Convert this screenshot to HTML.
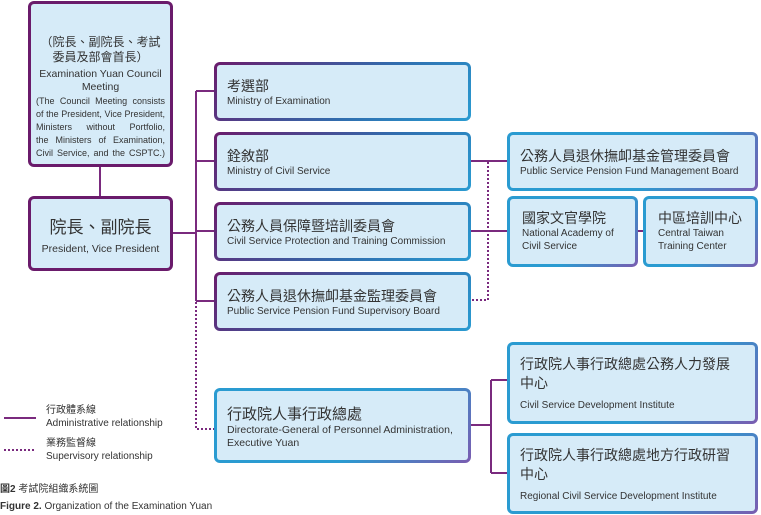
<!DOCTYPE html>
<html><head><meta charset="utf-8"><style>
body{margin:0;width:761px;height:515px;background:#fff;position:relative;overflow:hidden;font-family:"Liberation Sans","Noto Sans CJK TC",sans-serif;color:#333}
.b{position:absolute;box-sizing:border-box;border:3px solid transparent;border-radius:6px;background:linear-gradient(#d6ebf8,#d6ebf8) padding-box,var(--g) border-box}
.p{--g:linear-gradient(#6a1b6b,#6a1b6b)}
.m{--g:linear-gradient(135deg,#6a1b6b,#2f6fb0 60%,#2a9bd1)}
.r{--g:linear-gradient(135deg,#2a9bd1,#2a9bd1 60%,#7a5cb0)}
.c{text-align:center}
.zh{font-size:14px;color:#333;line-height:18px}
.en{font-size:10px;color:#333;line-height:13px}
.in{padding:12px 0 0 10px}
svg{position:absolute;left:0;top:0}
</style></head><body>
<svg width="761" height="515">
<g stroke="#7a2a7e" stroke-width="2" fill="none">
<line x1="100" y1="166" x2="100" y2="196"/>
<line x1="172" y1="233" x2="196" y2="233"/>
<line x1="196" y1="91" x2="196" y2="301"/>
<line x1="196" y1="91" x2="214" y2="91"/>
<line x1="196" y1="161" x2="214" y2="161"/>
<line x1="196" y1="231" x2="214" y2="231"/>
<line x1="196" y1="301" x2="214" y2="301"/>
<line x1="470" y1="161" x2="508" y2="161"/>
<line x1="470" y1="231" x2="508" y2="231"/>
<line x1="637" y1="231" x2="644" y2="231"/>
<line x1="470" y1="425" x2="491" y2="425"/>
<line x1="491" y1="380" x2="491" y2="473"/>
<line x1="491" y1="380" x2="508" y2="380"/>
<line x1="491" y1="473" x2="508" y2="473"/>
<line x1="4" y1="418" x2="36" y2="418"/>
</g>
<g stroke="#7a2a7e" stroke-width="2" fill="none" stroke-dasharray="2 2">
<path d="M196 302 V429 H214"/>
<path d="M488 162 V300 H470"/>
<line x1="4" y1="450" x2="36" y2="450"/>
</g>
</svg>

<div class="b p c" style="left:28px;top:1px;width:145px;height:166px;padding:31px 5px 0">
<div style="font-size:12px;line-height:15px">（院長、副院長、考試<br>委員及部會首長）</div>
<div style="font-size:10.5px;line-height:13px;margin-top:3px">Examination Yuan Council<br>Meeting</div>
<div style="font-size:9px;line-height:13px;text-align:justify;text-align-last:justify;margin-top:1px">(The Council Meeting consists<br>of the President, Vice President,<br>Ministers without Portfolio,<br>the Ministers of Examination,<br><span style="display:inline-block;width:100%;text-align:left">Civil Service, and the CSPTC.)</span></div>
</div>
<div class="b p c" style="left:28px;top:196px;width:145px;height:75px;padding-top:18px">
<div style="font-size:17px;line-height:22px">院長、副院長</div>
<div class="en" style="font-size:10.5px;margin-top:4px">President, Vice President</div>
</div>

<div class="b m in" style="left:214px;top:62px;width:257px;height:59px"><div class="zh">考選部</div><div class="en">Ministry of Examination</div></div>
<div class="b m in" style="left:214px;top:132px;width:257px;height:59px"><div class="zh">銓敘部</div><div class="en">Ministry of Civil Service</div></div>
<div class="b m in" style="left:214px;top:202px;width:257px;height:59px"><div class="zh">公務人員保障暨培訓委員會</div><div class="en">Civil Service Protection and Training Commission</div></div>
<div class="b m in" style="left:214px;top:272px;width:257px;height:59px"><div class="zh">公務人員退休撫卹基金監理委員會</div><div class="en">Public Service Pension Fund Supervisory Board</div></div>
<div class="b r in" style="left:214px;top:388px;width:257px;height:75px;padding-top:15px"><div class="zh" style="font-size:15px">行政院人事行政總處</div><div class="en" style="font-size:10.5px">Directorate-General of Personnel Administration, Executive Yuan</div></div>

<div class="b r in" style="left:507px;top:132px;width:251px;height:59px"><div class="zh">公務人員退休撫卹基金管理委員會</div><div class="en">Public Service Pension Fund Management Board</div></div>
<div class="b r" style="left:507px;top:196px;width:131px;height:71px;padding:10px 0 0 12px"><div class="zh">國家文官學院</div><div class="en">National Academy of<br>Civil Service</div></div>
<div class="b r" style="left:643px;top:196px;width:115px;height:71px;padding:10px 0 0 12px"><div class="zh">中區培訓中心</div><div class="en">Central Taiwan<br>Training Center</div></div>
<div class="b r in" style="left:507px;top:342px;width:251px;height:82px;padding-top:10px"><div class="zh" style="line-height:19px">行政院人事行政總處公務人力發展<br>中心</div><div class="en" style="margin-top:6px">Civil Service Development Institute</div></div>
<div class="b r in" style="left:507px;top:433px;width:251px;height:81px;padding-top:10px"><div class="zh" style="line-height:19px">行政院人事行政總處地方行政研習<br>中心</div><div class="en" style="margin-top:6px">Regional Civil Service Development Institute</div></div>

<div style="position:absolute;left:46px;top:404px;font-size:10px;line-height:13px">行政體系線<br>Administrative relationship</div>
<div style="position:absolute;left:46px;top:437px;font-size:10px;line-height:13px">業務監督線<br>Supervisory relationship</div>
<div style="position:absolute;left:0;top:483px;font-size:10px;line-height:14px;font-weight:bold">圖2 <span style="font-weight:normal">考試院組織系統圖</span></div>
<div style="position:absolute;left:0;top:500px;font-size:10px;line-height:14px"><b>Figure 2.</b> Organization of the Examination Yuan</div>
</body></html>
